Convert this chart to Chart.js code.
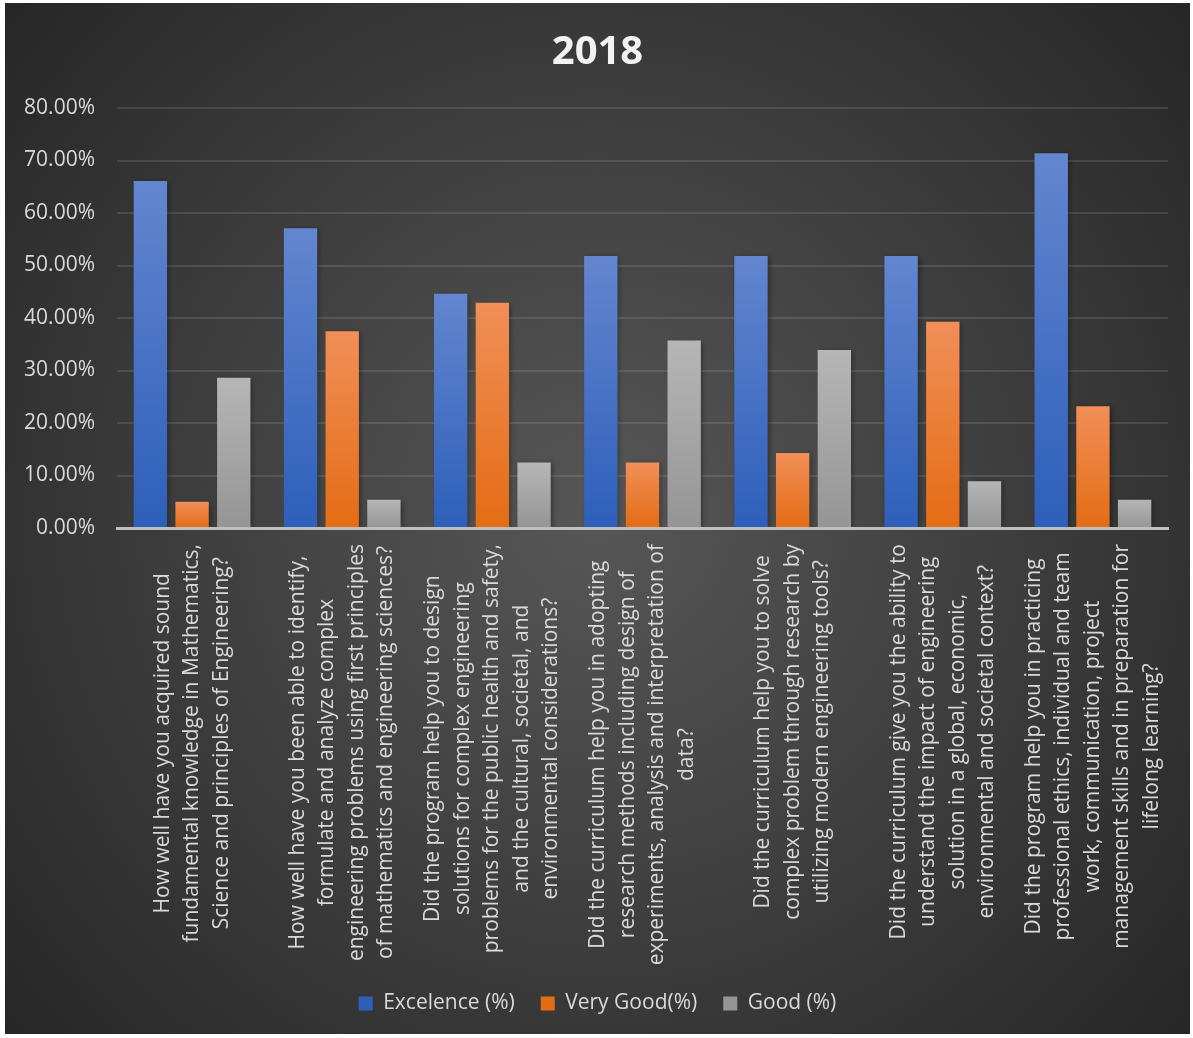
<!DOCTYPE html>
<html lang="en">
<head>
  <meta charset="UTF-8" />
  <title>2018</title>
  <script src="https://cdn.jsdelivr.net/npm/chart.js"></script>
  <style>
    body { margin: 0; background: #fff; }
    #wrap { position: absolute; left: 5px; top: 3px; width: 1185px; height: 1031px; }
  </style>
</head>
<body>
  <div id="wrap"><canvas id="surveyChart"></canvas></div>

  <script>
    // categories (each one split into the lines used on the axis)
    const questions = [
      ["How well have you acquired sound", "fundamental knowledge in Mathematics,", "Science and principles of Engineering?"],
      ["How well have you been able to identify,", "formulate and analyze complex", "engineering problems using first principles", "of mathematics and engineering sciences?"],
      ["Did the program help you to design", "solutions for complex engineering", "problems for the public health and safety,", "and the cultural, societal, and", "environmental considerations?"],
      ["Did the curriculum help you in adopting", "research methods including design of", "experiments, analysis and interpretation of", "data?"],
      ["Did the curriculum help you to solve", "complex problem through research by", "utilizing modern engineering tools?"],
      ["Did the curriculum give you the ability to", "understand the impact of engineering", "solution in a global, economic,", "environmental and societal context?"],
      ["Did the program help you in practicing", "professional ethics, individual and team", "work, communication, project", "management skills and in preparation for", "lifelong learning?"]
    ];
    const seriesNames = ["Excelence (%)", "Very Good(%)", "Good (%)"];
    const excellence = [66.1, 57.1, 44.6, 51.8, 51.8, 51.8, 71.4];
    const veryGood = [5.0, 37.5, 42.9, 12.5, 14.3, 39.3, 23.2];
    const good = [28.6, 5.4, 12.5, 35.7, 33.9, 8.9, 5.4];
    const yTicks = [0, 10, 20, 30, 40, 50, 60, 70, 80];

    const FONT = "'Open Sans', 'DejaVu Sans', sans-serif";

    // vertical gradient per bar, light at the top
    function barFill(top, bottom) {
      return function (c) {
        if (c.type !== 'data' || !c.chart.chartArea) return bottom;
        const y = c.chart.scales.y;
        const y0 = y.getPixelForValue(c.raw);
        const y1 = y.getPixelForValue(0);
        const g = c.chart.ctx.createLinearGradient(0, y0, 0, y1);
        g.addColorStop(0, top);
        g.addColorStop(1, bottom);
        return g;
      };
    }

    const backgroundPlugin = {
      id: 'bg',
      beforeDraw(chart) {
        const { ctx, width, height } = chart;
        const g = ctx.createRadialGradient(width / 2, height / 2, 0, width / 2, height / 2, 790);
        g.addColorStop(0, '#575757');
        g.addColorStop(1, '#262626');
        ctx.save();
        ctx.fillStyle = g;
        ctx.fillRect(0, 0, width, height);
        ctx.restore();
      },
      beforeDatasetsDraw(chart) {
        const ctx = chart.ctx;
        ctx.save();
        ctx.shadowColor = 'rgba(0,0,0,0.35)';
        ctx.shadowBlur = 5;
        ctx.shadowOffsetX = 2;
        ctx.shadowOffsetY = 1;
      },
      afterDatasetsDraw(chart) {
        chart.ctx.restore();
      }
    };

    // rotated category labels, lines centred on each other like the original
    const labelPlugin = {
      id: 'rotLabels',
      afterDraw(chart) {
        const { ctx } = chart;
        const xs = chart.scales.x;
        const top = chart.chartArea.bottom + 16;
        const lineGap = 29.5;
        ctx.save();
        ctx.font = '21px ' + FONT;
        ctx.fillStyle = '#d9d9d9';
        ctx.textAlign = 'center';
        ctx.textBaseline = 'middle';
        questions.forEach((lines, i) => {
          const x = xs.getPixelForTick(i);
          const maxW = Math.max(...lines.map(l => ctx.measureText(l).width));
          lines.forEach((line, j) => {
            ctx.save();
            ctx.translate(x + (j - (lines.length - 1) / 2) * lineGap, top + maxW / 2);
            ctx.rotate(-Math.PI / 2);
            ctx.fillText(line, 0, 0);
            ctx.restore();
          });
        });
        ctx.restore();
      }
    };

    new Chart(document.getElementById('surveyChart'), {
      type: 'bar',
      data: {
        labels: questions.map(q => q.join(' ')),
        datasets: [
          { label: seriesNames[0], data: excellence, backgroundColor: barFill('#6386cf', '#2d5fba') },
          { label: seriesNames[1], data: veryGood, backgroundColor: barFill('#f18f58', '#e46c14') },
          { label: seriesNames[2], data: good, backgroundColor: barFill('#b6b6b6', '#959595') }
        ]
      },
      options: {
        responsive: true,
        maintainAspectRatio: false,
        animation: false,
        categoryPercentage: 0.833,
        barPercentage: 0.8,
        layout: { padding: { left: 0, right: 0, top: 0, bottom: 10 } },
        plugins: {
          tooltip: { enabled: false },
          title: {
            display: true,
            text: '2018',
            color: '#f2f2f2',
            font: { family: FONT, size: 40, weight: 'bold' },
            padding: { top: 26, bottom: 31 }
          },
          legend: {
            position: 'bottom',
            labels: {
              color: '#d9d9d9',
              font: { family: FONT, size: 21 },
              boxWidth: 14,
              boxHeight: 14,
              padding: 26
            }
          }
        },
        scales: {
          x: {
            grid: { display: false },
            border: { display: true, color: '#bfbfbf', width: 3, z: 1 },
            ticks: { display: false },
            afterFit(scale) { scale.height = 439; }
          },
          y: {
            min: 0,
            max: 80,
            afterBuildTicks(scale) { scale.ticks = yTicks.map(v => ({ value: v })); },
            grid: { color: 'rgba(255,255,255,0.11)', lineWidth: 2, drawTicks: false },
            border: { display: false },
            ticks: {
              color: '#d9d9d9',
              padding: 22,
              font: { family: FONT, size: 21 },
              callback: v => v.toFixed(2) + '%'
            },
            afterFit(scale) { scale.width = 112; }
          },
          // empty right margin so the plot stops short of the frame
          yRight: {
            position: 'right',
            grid: { display: false },
            border: { display: false },
            ticks: { display: false },
            afterFit(scale) { scale.width = 22; }
          }
        }
      },
      plugins: [backgroundPlugin, labelPlugin]
    });
  </script>
</body>
</html>
